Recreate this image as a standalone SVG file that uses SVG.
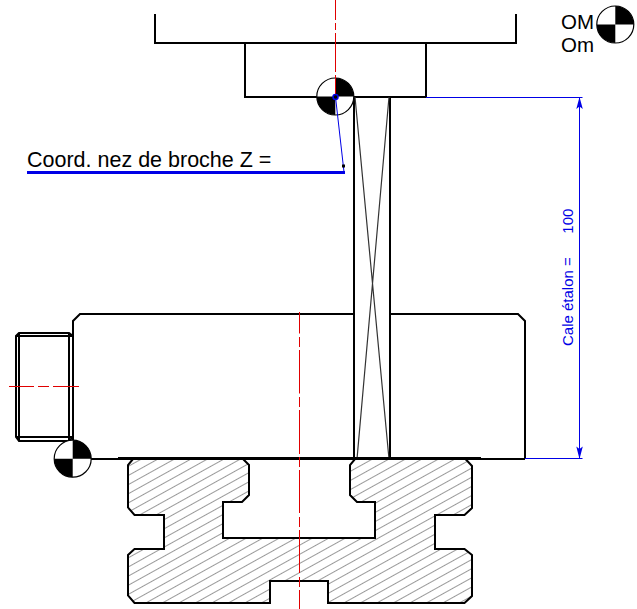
<svg xmlns="http://www.w3.org/2000/svg" width="637" height="609" viewBox="0 0 637 609">
<style>
.k{fill:none;stroke:#000;stroke-width:2}
.t{fill:none;stroke:#000;stroke-width:1}
.x{fill:none;stroke:#333;stroke-width:1.2}
.r{fill:none;stroke:#e00000;stroke-width:1}
.b{fill:none;stroke:#0000e6;stroke-width:1}
.a{fill:#0000e6}
.txt{font-family:"Liberation Sans",Arial,sans-serif}
</style>
<defs>
<pattern id="hatch" patternUnits="userSpaceOnUse" width="16" height="8" patternTransform="translate(171.7 460) rotate(-29)">
<rect width="16" height="8" fill="#fff"/>
<line x1="0" y1="0.5" x2="16" y2="0.5" stroke="#999" stroke-width="1"/>
</pattern>
<g id="om">
<circle r="18.500" fill="#fff" stroke="#000" stroke-width="1.200"/>
<path d="M0 0V-18.500A18.500 18.500 0 0 1 18.500 0ZM0 0V18.500A18.500 18.500 0 0 1-18.500 0Z" fill="#000"/>
</g>
</defs>
<g id="spindle"><path class="k" d="M155 14V43H516V14"/></g>
<g id="holder"><path class="k" d="M245 43V97H426V43"/></g>
<g id="gauge">
<path class="k" d="M354 97V459M390 97V459"/>
<path class="x" d="M355 97L389 459M389 97L357 459"/>
</g>
<g id="body">
<path class="k" d="M354 314H80L73 321V440M390 314H518L525 321V459"/>
<path class="k" d="M91 459H525"/>
<path class="t" d="M118 457.500H481"/>
</g>
<g id="thread">
<path class="k" d="M73 336L69 333H19L16 336V437L19 441H69L73 437"/>
<path class="k" d="M16 336H73M16 437H73M19 333V441M69 333V441"/>
</g>
<g id="base">
<path d="M133 459L128 465V507.500L134.500 515H164V549H134.500L128 555V595.500L134.500 603H270V581H328V603H464.500L472 596V555L464.500 549H435V515H464.500L472 508V466L465.500 459H355L350 465V495L357 502H375V538H223V502H242L249 495V465L243 459Z" fill="url(#hatch)" stroke="#000" stroke-width="2"/>
</g>
<g id="om-spindle"><use href="#om" x="335.300" y="96.500"/></g>
<g id="om-table"><use href="#om" x="72.700" y="458.700"/></g>
<g id="om-legend"><use href="#om" x="615.300" y="24.500"/></g>
<g id="connectors">
<path class="r" d="M335.500 0V20M335.500 23V30M335.500 33V72M335.500 75V97"/>
<path class="r" d="M299.500 312V333.500M299.500 337V347M299.500 350V393.500M299.500 397V407M299.500 410V454M299.500 457V467M299.500 470V513M299.500 517V527M299.500 530V573M299.500 577V587M299.500 590V609"/>
<path class="r" d="M9 386.500H34M38 386.500H49M53 386.500H79"/>
<path class="b" d="M426 97.500H582.500M525 458.500H582.500"/>
<path class="b" d="M579.500 98V458"/>
<path class="a" d="M579.500 97L582.800 109L579.500 106.500L576.300 109Z"/>
<path class="a" d="M579.500 459L582.800 446.500L579.500 449L576.300 446.500Z"/>
<path class="b" d="M335.500 97L344 172"/>
<path d="M27 172.500H345" fill="none" stroke="#0000e6" stroke-width="3"/>
</g>
<circle id="origin" cx="335.500" cy="97" r="2.500" fill="#000" stroke="#0000e6" stroke-width="1.500"/>
<rect id="point" x="342" y="164.500" width="3" height="3" fill="#000"/>
<g id="labels">
<text class="txt" x="27" y="167" font-size="21.500">Coord. nez de broche Z =</text>
<text class="txt" x="561" y="29" font-size="20.500">OM</text>
<text class="txt" x="561" y="52" font-size="20.500">Om</text>
<text class="txt" x="573" y="346" font-size="15" fill="#0000e6" transform="rotate(-90 573 346)" xml:space="preserve">Cale étalon =   <tspan dx="11">100</tspan></text>
</g>
</svg>
